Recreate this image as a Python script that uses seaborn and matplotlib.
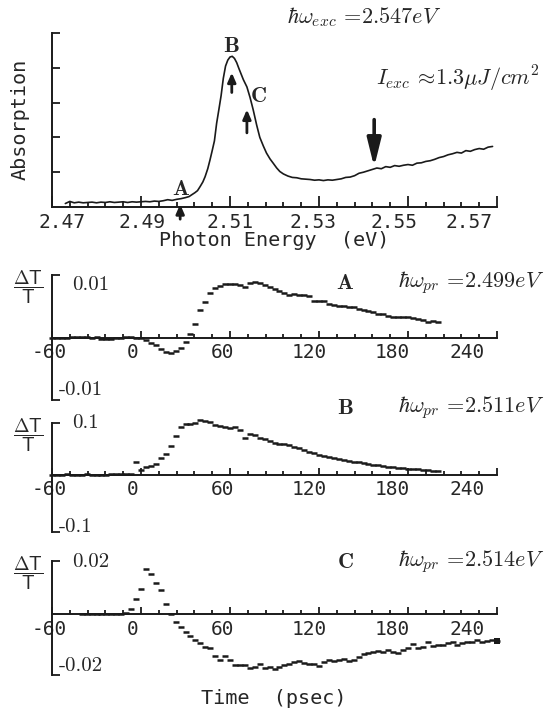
import numpy as np
import matplotlib
matplotlib.use('Agg')
import matplotlib.pyplot as plt
from matplotlib.transforms import ScaledTranslation, blended_transform_factory
import seaborn as sns

sns.set_theme(style='white')
plt.rcParams['font.family'] = ['DejaVu Sans Mono']
plt.rcParams['mathtext.fontset'] = 'cm'

# --- absorption spectrum (arb. units) ---
energy = [2.473, 2.474, 2.475, 2.476, 2.477, 2.478, 2.479, 2.480, 2.481, 2.482,
          2.483, 2.484, 2.485, 2.486, 2.487, 2.488, 2.489, 2.490, 2.491, 2.492,
          2.493, 2.494, 2.495, 2.496, 2.497, 2.498, 2.499, 2.500, 2.5008, 2.5015,
          2.5021, 2.5027, 2.5033, 2.5039, 2.5044, 2.505, 2.5055, 2.506, 2.5065, 2.507,
          2.5075, 2.508, 2.5085, 2.509, 2.5095, 2.510, 2.5105, 2.511, 2.5115, 2.512,
          2.5125, 2.513, 2.5138, 2.5145, 2.5152, 2.516, 2.5167, 2.5175, 2.5182, 2.519,
          2.5197, 2.5205, 2.5212, 2.522, 2.523, 2.524, 2.525, 2.526, 2.527, 2.528,
          2.529, 2.530, 2.531, 2.532, 2.533, 2.534, 2.535, 2.536, 2.537, 2.538,
          2.539, 2.540, 2.541, 2.542, 2.543, 2.544, 2.545, 2.546, 2.547, 2.548,
          2.549, 2.550, 2.551, 2.552, 2.553, 2.554, 2.555, 2.556, 2.557, 2.558,
          2.559, 2.560, 2.561, 2.562, 2.563, 2.564, 2.565, 2.566, 2.567, 2.568, 2.569]
absorb = [0.10, 0.16, 0.12, 0.14, 0.12, 0.13, 0.14, 0.12, 0.14, 0.13,
          0.15, 0.13, 0.14, 0.15, 0.13, 0.15, 0.14, 0.15, 0.16, 0.15,
          0.17, 0.16, 0.18, 0.21, 0.19, 0.22, 0.24, 0.27, 0.30, 0.36,
          0.41, 0.47, 0.59, 0.72, 0.87, 1.10, 1.35, 1.62, 1.90, 2.41,
          2.80, 3.20, 3.70, 4.05, 4.22, 4.31, 4.33, 4.27, 4.15, 3.98,
          3.82, 3.66, 3.45, 3.15, 2.80, 2.35, 2.00, 1.75, 1.55, 1.38,
          1.26, 1.12, 1.02, 0.95, 0.89, 0.85, 0.84, 0.81, 0.80, 0.79,
          0.77, 0.78, 0.76, 0.78, 0.77, 0.79, 0.81, 0.85, 0.86, 0.90,
          0.97, 1.00, 1.04, 1.08, 1.12, 1.10, 1.16, 1.14, 1.19, 1.17,
          1.20, 1.22, 1.20, 1.26, 1.27, 1.31, 1.33, 1.37, 1.42, 1.45,
          1.50, 1.53, 1.57, 1.55, 1.62, 1.60, 1.65, 1.68, 1.66, 1.72, 1.74]
energy_ticks = [2.47, 2.49, 2.51, 2.53, 2.55, 2.57]

# --- pump-probe traces, in units of the labelled tick value ---
t_step = 10 / 3
dT_A = [0.0, 0.0, -0.01, 0.0, 0.01, 0.02, 0.01, 0.02, 0.0, 0.01,
        -0.03, -0.03, -0.02, 0.0, 0.0, 0.01, 0.01, 0.0, 0.0,
        -0.05, -0.09, -0.14, -0.22, -0.27, -0.28, -0.25, -0.2, -0.08, 0.08,
        0.27, 0.52, 0.68, 0.85, 0.95, 0.99, 1.01, 1.02, 1.02, 1.0,
        0.96, 1.04, 1.05, 1.03, 1.0, 0.96, 0.92, 0.89, 0.85, 0.81,
        0.83, 0.81, 0.81, 0.79, 0.70, 0.70, 0.69, 0.64, 0.63, 0.61,
        0.61, 0.59, 0.58, 0.55, 0.52, 0.50, 0.48, 0.45, 0.45, 0.42,
        0.39, 0.40, 0.40, 0.39, 0.37, 0.36, 0.33, 0.30, 0.31, 0.30]
dT_B = [0.0, 0.0, 0.0, 0.01, 0.0, 0.0, 0.0, 0.01, 0.0, 0.0,
        0.0, 0.0, 0.01, 0.01, 0.01, 0.02, 0.02, 0.24,
        0.10, 0.15, 0.18, 0.21, 0.32, 0.40, 0.55, 0.75, 0.92, 0.98,
        0.99, 1.00, 1.05, 1.04, 1.01, 0.97, 0.95, 0.92, 0.91, 0.92,
        0.87, 0.72, 0.78, 0.76, 0.72, 0.69, 0.66, 0.62, 0.60, 0.59,
        0.57, 0.54, 0.51, 0.48, 0.45, 0.42, 0.39, 0.37, 0.34, 0.32,
        0.30, 0.29, 0.27, 0.25, 0.24, 0.23, 0.21, 0.20, 0.19, 0.17,
        0.16, 0.15, 0.14, 0.13, 0.12, 0.11, 0.11, 0.10, 0.09, 0.08, 0.08]
dT_C = [0.0, 0.0, 0.01, 0.01, 0.01, 0.0, 0.01, 0.01, 0.01, 0.02,
        0.10, 0.29, 0.49, 0.86, 0.77, 0.60, 0.47, 0.19, 0.01, -0.16,
        -0.25, -0.34, -0.42, -0.50, -0.56, -0.64, -0.65, -0.81, -0.89, -0.81,
        -0.88, -0.98, -0.98, -0.98, -1.04, -1.01, -0.95, -1.04, -1.01, -1.06,
        -1.01, -0.98, -0.95, -0.92, -0.90, -0.94, -0.95, -0.96, -1.0, -0.92,
        -0.88, -0.90, -0.88, -0.86, -0.90, -0.88, -0.83, -0.76, -0.75, -0.73,
        -0.70, -0.73, -0.69, -0.72, -0.75, -0.69, -0.66, -0.58, -0.65, -0.63,
        -0.53, -0.61, -0.59, -0.59, -0.56, -0.54, -0.59, -0.56, -0.54, -0.53,
        -0.50, -0.53, -0.52, -0.50, -0.52]
t_start = {'A': -60, 'B': -60, 'C': -40}
scales = {'A': 0.01, 'B': 0.1, 'C': 0.02}
probe = {'A': '2.499', 'B': '2.511', 'C': '2.514'}
time_ticks = [-60, 0, 60, 120, 180, 240]

W, H = 545, 713
fig = plt.figure(figsize=(W / 100, H / 100), dpi=100)


def px_axes(left, top, right, bottom):
    return fig.add_axes([left / W, 1 - bottom / H, (right - left) / W, (bottom - top) / H])


def shift_labels(ax, offsets):
    for lab, dx in zip(ax.get_xticklabels(), offsets):
        lab.set_transform(lab.get_transform() + ScaledTranslation(dx / 100, 0, fig.dpi_scale_trans))


# ---------------- absorption panel ----------------
ax0 = px_axes(52, 33, 497, 207)
sns.lineplot(x=energy, y=absorb, color='k', lw=1.2, ax=ax0)
ax0.set_xlim(2.47, 2.57)
ax0.set_ylim(0, 5)
for s in ['top', 'right']:
    ax0.spines[s].set_visible(False)
for s in ['left', 'bottom']:
    ax0.spines[s].set_linewidth(1.4)
    ax0.spines[s].set_color('k')
ax0.set_xticks(energy_ticks, [f'{e:.2f}' for e in energy_ticks])
ax0.set_xticks(np.arange(2.47, 2.5701, 0.004), minor=True)
ax0.set_yticks([1, 2, 3, 4, 5])
ax0.tick_params(axis='x', which='major', direction='in', length=8, width=1.3,
                color='k', labelsize=14, pad=4, bottom=True)
ax0.tick_params(axis='x', which='minor', direction='in', length=3.6, width=1.3,
                color='k', bottom=True)
ax0.tick_params(axis='y', direction='in', length=6, width=1.3, color='k',
                left=True, labelleft=False)
shift_labels(ax0, [10, 1, 0, -6, -14, -28])

ax0.text(2.5102, 4.62, r'$\mathbf{B}$', fontsize=16, ha='center', va='center')
ax0.text(2.5163, 3.20, r'$\mathbf{C}$', fontsize=16, ha='center', va='center')
ax0.text(2.4990, 0.52, r'$\mathbf{A}$', fontsize=16, ha='center', va='center')
small = dict(arrowstyle='-|>,head_length=0.55,head_width=0.24', color='k', lw=2.0,
             mutation_scale=10, shrinkA=0, shrinkB=0)
ax0.annotate('', xy=(2.5104, 3.86), xytext=(2.5104, 3.29), arrowprops=small)
ax0.annotate('', xy=(2.5138, 2.80), xytext=(2.5138, 2.13), arrowprops=small)
ax0.annotate('', xy=(2.4988, 0.08), xytext=(2.4988, -0.35), arrowprops=small,
             annotation_clip=False)
ax0.annotate('', xy=(2.5424, 1.15), xytext=(2.5424, 2.51),
             arrowprops=dict(arrowstyle='-|>,head_length=1.7,head_width=0.42',
                             color='k', lw=2.6, mutation_scale=10, shrinkA=0, shrinkB=0))

fig.text(20 / W, 1 - 119 / H, 'Absorption', rotation=90, ha='center', va='center', fontsize=14.5)
fig.text(274 / W, 1 - 240 / H, 'Photon Energy  (eV)', ha='center', va='center', fontsize=14.5)
fig.text(364 / W, 1 - 17 / H, r'$\hbar\omega_{exc}\,=\!2.547eV$', ha='center', va='center', fontsize=16)
fig.text(376 / W, 1 - 79 / H, r'$I_{exc}\,\approx\!1.3\mu J/cm^2$', ha='left', va='center', fontsize=16)

# ---------------- pump-probe panels ----------------
panels = [
    ('A', dT_A, 275, 400, (-1.18, 1.19), 283),
    ('B', dT_B, 423, 532, (-1.10, 1.0), 408),
    ('C', dT_C, 561, 675, (-1.17, 1.02), 562),
]
for name, vals, top, bottom, (ylo, yhi), label_y in panels:
    sc = scales[name]
    ax = px_axes(52, top, 497, bottom)
    t = t_start[name] + t_step * np.arange(len(vals))
    y = np.array(vals) * sc
    sns.scatterplot(x=t, y=y, marker='_', s=20, linewidth=1.8, color='k',
                    ax=ax, legend=False, clip_on=False)
    if name == 'C':
        sns.scatterplot(x=t[-1:], y=y[-1:], marker='s', s=22, color='k',
                        linewidth=0, ax=ax, legend=False, clip_on=False)
    ax.set_xlim(-60, 240)
    ax.set_ylim(ylo * sc, yhi * sc)
    for s in ['top', 'right']:
        ax.spines[s].set_visible(False)
    for s in ['left', 'bottom']:
        ax.spines[s].set_linewidth(1.4)
        ax.spines[s].set_color('k')
    ax.spines['bottom'].set_position(('data', 0))
    ax.set_xticks(time_ticks, [str(v) for v in time_ticks])
    ax.set_xticks(np.arange(-60, 241, 12), minor=True)
    ax.set_yticks([])
    ax.set_yticks([ylo * sc, yhi * sc], minor=True)
    ax.tick_params(axis='x', which='major', direction='in', length=5, width=1.3,
                   color='k', labelsize=14, pad=4, bottom=True)
    ax.tick_params(axis='x', which='minor', direction='in', length=3, width=1.3,
                   color='k', bottom=True)
    ax.tick_params(axis='y', which='minor', direction='in', length=5.5, width=1.3,
                   color='k', left=True)
    shift_labels(ax, [-3, -8, -8, -10, -16, -30])

    tr = blended_transform_factory(ax.transAxes, ax.transData)
    pos = f'{sc:g}'
    ax.text((72 - 52) / 445, sc, pos, transform=tr, ha='left', va='center',
            fontsize=15, family='cmr10')
    ax.text((59 - 52) / 445, -sc, '-' + pos, transform=tr, ha='left', va='center',
            fontsize=15, family='cmr10')
    fig.text(345 / W, 1 - label_y / H, rf'$\mathbf{{{name}}}$',
             ha='center', va='center', fontsize=16)
    fig.text(398 / W, 1 - label_y / H, rf'$\hbar\omega_{{pr}}\,=\!{probe[name]}eV$',
             ha='left', va='center', fontsize=16)
    fig.text(28 / W, 1 - (top + 12) / H, r'$\mathsf{\dfrac{\Delta T}{T}}$',
             ha='center', va='center', fontsize=13.5)

fig.text(274 / W, 1 - 699 / H, 'Time  (psec)', ha='center', va='center', fontsize=14.5)

fig.savefig('out.png', dpi=100)
